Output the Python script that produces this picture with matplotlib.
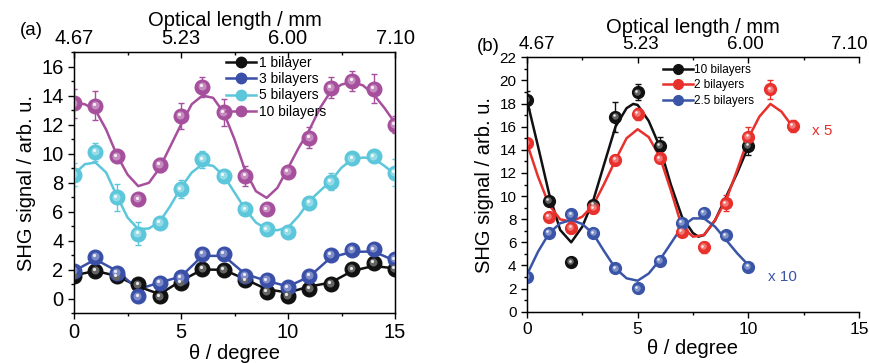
import numpy as np
import matplotlib
matplotlib.use("Agg")
import matplotlib.pyplot as plt
from matplotlib.ticker import MultipleLocator
from matplotlib.transforms import ScaledTranslation

plt.rcParams['font.family'] = ['Liberation Sans', 'DejaVu Sans']

# ---- panel (a) data ----
theta_a = [0, 1, 2, 3, 4, 5, 6, 7, 8, 9, 10, 11, 12, 13, 14, 15]
one_bl = [1.56, 1.9, 1.52, 0.97, 0.14, 1.1, 2.07, 1.98, 1.26, 0.48, 0.18, 0.69, 0.99, 2.02, 2.44, 2.07]
three_bl = [1.9, 2.87, 1.79, 0.14, 1.1, 1.45, 3.1, 3.1, 1.56, 1.26, 0.76, 1.56, 2.99, 3.36, 3.4, 2.71]
five_bl = [8.53, 10.1, 6.97, 4.46, 5.24, 7.54, 9.6, 8.46, 6.16, 4.78, 4.62, 6.62, 8.05, 9.66, 9.8, 8.69]
ten_bl = [13.45, 13.29, 9.8, 6.85, 9.22, 12.6, 14.6, 12.83, 8.46, 6.16, 8.74, 11.1, 14.55, 15.0, 14.48, 12.0]
err_one = [0.2] * 16
err_three = [0.2] * 16
err_five = [0.8, 0.6, 0.9, 0.8, 0.3, 0.6, 0.6, 0.3, 0.3, 0.3, 0.4, 0.3, 0.6, 0.3, 0.4, 0.9]
err_ten = [1.0, 1.0, 0.3, 0.3, 0.5, 0.9, 0.7, 0.9, 0.7, 0.3, 0.3, 0.7, 0.7, 0.7, 1.0, 0.6]

# curves
curve_x_a = [0, 0.5, 1, 1.5, 2, 2.5, 3, 3.5, 4, 4.5, 5, 5.5, 6, 6.5, 7, 7.5,
             8, 8.5, 9, 9.5, 10, 10.5, 11, 11.5, 12, 12.5, 13, 13.5, 14, 14.5, 15]
curve_ten = [13.5, 13.4, 13.0, 11.65, 9.9, 8.55, 7.75, 7.98, 9.0, 10.5, 12.0, 13.4, 14.0, 13.84, 12.8, 10.97,
             8.8, 7.4, 6.94, 7.63, 9.0, 10.4, 11.65, 13.15, 14.3, 14.76, 14.92, 14.7, 14.07, 13.15, 12.1]
curve_five = [8.57, 9.26, 9.38, 8.69, 7.08, 5.59, 4.78, 4.83, 5.29, 6.39, 7.66, 8.69, 9.26, 9.15, 8.46, 7.31,
              6.16, 5.24, 4.78, 4.71, 4.9, 5.7, 6.74, 7.43, 8.11, 9.03, 9.6, 9.72, 9.66, 9.15, 8.57]
curve_one = [1.6, 1.9, 1.56, 0.83, 0.3, 1.22, 2.0, 1.98, 1.33, 0.64, 0.41, 0.83, 1.1, 1.9, 2.25, 2.07]
curve_three = [1.9, 2.7, 1.9, 0.64, 1.1, 1.52, 2.94, 2.94, 1.68, 1.22, 0.83, 1.52, 2.83, 3.22, 3.24, 2.6]

# ---- panel (b) data ----
theta_b10 = [0, 1, 2, 3, 4, 5, 6, 10]
b_ten = [18.3, 9.57, 4.27, 9.23, 16.87, 18.97, 14.33, 14.33]
err_b_ten = [0.8, 0.3, 0.3, 0.3, 1.3, 0.7, 0.8, 0.8]
theta_b2 = [0, 1, 2, 3, 4, 5, 6, 7, 8, 9, 10, 11, 12]
b_two = [14.62, 8.22, 7.27, 8.94, 13.12, 17.1, 13.26, 6.92, 5.57, 9.37, 15.14, 19.23, 16.06]
err_b_two = [0.4, 0.4, 0.5, 0.4, 0.4, 0.5, 0.4, 0.4, 0.5, 0.7, 0.8, 0.8, 0.5]
theta_b25 = [0, 1, 2, 3, 4, 5, 6, 7, 8, 9, 10]
b_twohalf = [3.03, 6.83, 8.42, 6.78, 3.75, 2.02, 4.41, 7.7, 8.56, 6.6, 3.89]
err_b_twohalf = [0.2] * 11

curve_x_b10 = [0, 0.5, 1, 1.5, 2, 2.5, 3, 3.5, 4, 4.5, 4.8, 5, 5.5, 6, 6.5, 7, 7.5, 7.75, 8, 8.5, 9, 9.5, 10]
curve_b10 = [18.3, 14.3, 10.2, 7.07, 6.0, 7.35, 9.66, 12.84, 16.0, 17.6, 17.97, 17.88, 16.5, 14.27, 11.0,
             8.22, 6.8, 6.49, 6.63, 7.9, 9.95, 12.0, 14.27]
curve_x_b = [0, 0.5, 1, 1.5, 2, 2.5, 3, 3.5, 4, 4.5, 5, 5.5, 6, 6.5, 7, 7.5, 8, 8.5, 9, 9.5, 10,
             10.5, 11, 11.5, 12]
curve_b2 = [14.57, 11.68, 9.23, 7.99, 7.79, 8.22, 9.23, 11.1, 13.12, 15.0, 15.78, 15.1, 13.41, 10.5, 7.35,
            6.49, 6.63, 7.93, 9.66, 12.26, 15.0, 16.87, 17.97, 17.3, 16.0]
curve_b25 = [3.2, 5.19, 6.78, 7.65, 7.93, 7.59, 6.72, 5.19, 3.75, 2.89, 2.68, 3.3, 4.47, 5.9, 7.35,
             8.07, 8.07, 7.35, 6.2, 5.05, 4.04]

top_ticks = [0, 5, 10, 15]
top_labels = ['4.67', '5.23', '6.00', '7.10']


def lighten(c, f):
    c = np.array(matplotlib.colors.to_rgb(c))
    return tuple(c + (1 - c) * f)


def balls(ax, fig, x, y, err, color, ms, label=None):
    ax.errorbar(x, y, yerr=err, fmt='none', ecolor=color, elinewidth=1.0, capsize=2.5, capthick=1.0, zorder=3)
    h, = ax.plot(x, y, 'o', color=color, ms=ms, mec=color, zorder=4, label=label)
    off1 = ScaledTranslation(-0.6 / 72, 0.6 / 72, fig.dpi_scale_trans)
    off2 = ScaledTranslation(-1.2 / 72, 1.2 / 72, fig.dpi_scale_trans)
    ax.plot(x, y, 'o', color=lighten(color, 0.35), ms=ms * 0.55, mew=0, zorder=5,
            transform=ax.transData + off1)
    ax.plot(x, y, 'o', color='white', alpha=0.85, ms=ms * 0.22, mew=0, zorder=6,
            transform=ax.transData + off2)
    return h


def style(ax, fig, ymin, ymax, xsize, ysize, topsize):
    ax.set_xlim(0, 15)
    ax.set_ylim(ymin, ymax)
    ax.xaxis.set_major_locator(MultipleLocator(5))
    ax.xaxis.set_minor_locator(MultipleLocator(2.5))
    ax.yaxis.set_major_locator(MultipleLocator(2))
    ax.yaxis.set_minor_locator(MultipleLocator(1))
    ax.tick_params(axis='x', which='major', labelsize=xsize, length=4, width=1)
    ax.tick_params(axis='y', which='major', labelsize=ysize, length=4, width=1)
    ax.tick_params(which='minor', length=2, width=1)
    for s in ax.spines.values():
        s.set_linewidth(1)
    ax.set_xlabel('θ / degree', fontsize=14.5, labelpad=1)
    ax.set_ylabel('SHG signal / arb. u.', fontsize=14.5)
    top = ax.twiny()
    top.set_xlim(0, 15)
    top.set_xticks(top_ticks)
    top.set_xticklabels(top_labels)
    top.xaxis.set_minor_locator(MultipleLocator(2.5))
    top.tick_params(which='major', direction='in', labelsize=topsize, length=4, width=1, pad=3)
    top.tick_params(which='minor', direction='in', length=2, width=1)
    top.set_xlabel('Optical length / mm', fontsize=14.5, labelpad=2)
    return top


fig = plt.figure(figsize=(8.7, 3.63), dpi=100)
ax1 = fig.add_axes([0.0851, 0.1377, 0.369, 0.719])
ax2 = fig.add_axes([0.6057, 0.1413, 0.3816, 0.7008])

# panel (a)
c_one, c_three, c_five, c_ten = '#111111', '#3a4fa8', '#5cc6da', '#a64f9d'
ax1.plot(theta_a, curve_one, color=c_one, lw=1.8, zorder=2)
ax1.plot(theta_a, curve_three, color=c_three, lw=1.8, zorder=2)
ax1.plot(curve_x_a, curve_five, color=c_five, lw=1.8, zorder=2)
ax1.plot(curve_x_a, curve_ten, color=c_ten, lw=1.8, zorder=2)
balls(ax1, fig, theta_a, one_bl, err_one, c_one, 10.5)
balls(ax1, fig, theta_a, three_bl, err_three, c_three, 10.5)
balls(ax1, fig, theta_a, five_bl, err_five, c_five, 10.5)
balls(ax1, fig, theta_a, ten_bl, err_ten, c_ten, 10.5)
leg_a = [ax1.plot([], [], '-o', color=c, lw=1.8, ms=7.5)[0] for c in (c_one, c_three, c_five, c_ten)]
ax1.legend(leg_a, ['1 bilayer', '3 bilayers', '5 bilayers', '10 bilayers'], loc='upper left',
           bbox_to_anchor=(0.473, 0.985), frameon=False, fontsize=10, handlelength=2.2,
           handletextpad=0.15, borderpad=0, borderaxespad=0, labelspacing=0.16)
style(ax1, fig, -1, 17, 14.5, 14.5, 14.5)

# panel (b)
c_b10, c_b2, c_b25 = '#111111', '#e8312c', '#3a55a8'
ax2.plot(curve_x_b10, curve_b10, color=c_b10, lw=1.8, zorder=2)
ax2.plot(curve_x_b, curve_b2, color=c_b2, lw=1.8, zorder=2)
ax2.plot(curve_x_b[:21], curve_b25, color=c_b25, lw=1.8, zorder=2)
balls(ax2, fig, theta_b10, b_ten, err_b_ten, c_b10, 8.5)
balls(ax2, fig, theta_b2, b_two, err_b_two, c_b2, 8.5)
balls(ax2, fig, theta_b25, b_twohalf, err_b_twohalf, c_b25, 8.5)
leg_b = [ax2.plot([], [], '-o', color=c, lw=1.8, ms=7)[0] for c in (c_b10, c_b2, c_b25)]
ax2.legend(leg_b, ['10 bilayers', '2 bilayers', '2.5 bilayers'], loc='upper left',
           bbox_to_anchor=(0.41, 0.975), frameon=False, fontsize=8.5, handlelength=2.5,
           handletextpad=0.15, borderpad=0, borderaxespad=0, labelspacing=0.3)
ax2.text(12.9, 15.6, 'x 5', color=c_b2, fontsize=11, ha='left', va='center')
ax2.text(10.9, 3.0, 'x 10', color=c_b25, fontsize=11, ha='left', va='center')
top2 = style(ax2, fig, 0, 22, 12.5, 11, 13.5)
ax2.spines['right'].set_visible(False)
top2.spines['right'].set_visible(False)
# top labels of (b) sit a little off their ticks in the original
for lab, dx in zip(top2.get_xticklabels(), [10, 3, -3, -10]):
    lab.set_transform(lab.get_transform() + ScaledTranslation(dx / 100, 0, fig.dpi_scale_trans))

fig.text(0.023, 0.915, '(a)', fontsize=13.5, ha='left', va='center')
fig.text(0.548, 0.873, '(b)', fontsize=13.5, ha='left', va='center')

fig.savefig('out.png', dpi=100)
